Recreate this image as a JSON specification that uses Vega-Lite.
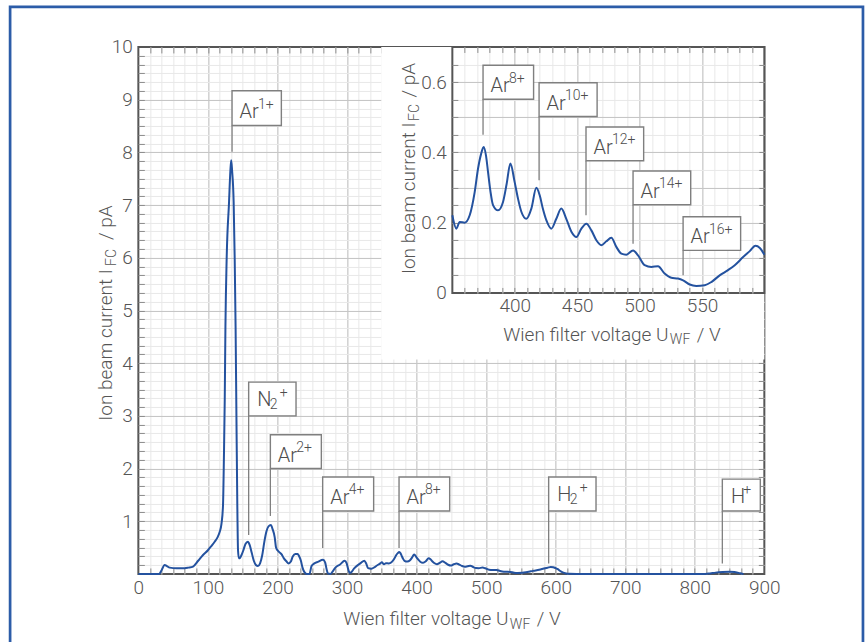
{
  "$schema": "https://vega.github.io/schema/vega-lite/v6.json",
  "padding": {"left": 7.35, "top": 3.95, "right": 5, "bottom": 5},
  "spacing": -312,
  "bounds": "flush",
  "align": "none",
  "config": {
    "font": "Roboto",
    "view": {"stroke": "#555555", "strokeWidth": 2},
    "axis": {
      "labelFont": "Roboto", "labelFontWeight": 300, "labelColor": "#555555", "labelFontSize": 19,
      "titleFont": "Roboto", "titleFontWeight": 300, "titleColor": "#555555", "titleFontSize": 19,
      "labelFlush": false, "labelOverlap": false, "labelBound": false, "domain": false, "tickColor": "#8c8c8c", "tickWidth": 1
    }
  },
  "datasets": {
    "one": [{}],
    "spec": [
      {"V": 0, "I": 0}, {"V": 30, "I": 0}, {"V": 33, "I": 0.06}, {"V": 37.8, "I": 0.17}, {"V": 41, "I": 0.15}, {"V": 45, "I": 0.12}, {"V": 55, "I": 0.11}, {"V": 66.6, "I": 0.11}, {"V": 72, "I": 0.12}, {"V": 78.6, "I": 0.14}, {"V": 86, "I": 0.25}, {"V": 93, "I": 0.36}, {"V": 100, "I": 0.45}, {"V": 105, "I": 0.53}, {"V": 109.7, "I": 0.61}, {"V": 114, "I": 0.7}, {"V": 117, "I": 0.8}, {"V": 119.5, "I": 0.95}, {"V": 121.7, "I": 1.3}, {"V": 123, "I": 2.2}, {"V": 124.2, "I": 3.3}, {"V": 125.2, "I": 4.7}, {"V": 127, "I": 6.0}, {"V": 130.4, "I": 7.06}, {"V": 132.3, "I": 7.65}, {"V": 133.5, "I": 7.85}, {"V": 134.8, "I": 7.65}, {"V": 137, "I": 7.06}, {"V": 138.5, "I": 6.0}, {"V": 139.8, "I": 4.7}, {"V": 141, "I": 3.0}, {"V": 142.2, "I": 1.4}, {"V": 143.3, "I": 0.45}, {"V": 144.5, "I": 0.3}, {"V": 146, "I": 0.3}, {"V": 148, "I": 0.35}, {"V": 151, "I": 0.45}, {"V": 154, "I": 0.57}, {"V": 157.5, "I": 0.61}, {"V": 160, "I": 0.55}, {"V": 163, "I": 0.4}, {"V": 166, "I": 0.25}, {"V": 169, "I": 0.17}, {"V": 172, "I": 0.15}, {"V": 175, "I": 0.2}, {"V": 178, "I": 0.35}, {"V": 181, "I": 0.6}, {"V": 184, "I": 0.8}, {"V": 187, "I": 0.9}, {"V": 190.5, "I": 0.93}, {"V": 193, "I": 0.85}, {"V": 196, "I": 0.7}, {"V": 198, "I": 0.5}, {"V": 200, "I": 0.45}, {"V": 203, "I": 0.41}, {"V": 206, "I": 0.37}, {"V": 209, "I": 0.3}, {"V": 212.8, "I": 0.24}, {"V": 216, "I": 0.2}, {"V": 219, "I": 0.23}, {"V": 222, "I": 0.33}, {"V": 225.7, "I": 0.38}, {"V": 229, "I": 0.38}, {"V": 231, "I": 0.34}, {"V": 233.7, "I": 0.25}, {"V": 236, "I": 0.12}, {"V": 239, "I": 0.03}, {"V": 242, "I": 0}, {"V": 246, "I": 0}, {"V": 249, "I": 0.15}, {"V": 253, "I": 0.2}, {"V": 258, "I": 0.23}, {"V": 265.5, "I": 0.27}, {"V": 268.5, "I": 0.22}, {"V": 270.5, "I": 0.1}, {"V": 272.5, "I": 0.01}, {"V": 276, "I": 0}, {"V": 280, "I": 0.06}, {"V": 284, "I": 0.13}, {"V": 290, "I": 0.18}, {"V": 296.6, "I": 0.25}, {"V": 299.5, "I": 0.2}, {"V": 301.5, "I": 0.1}, {"V": 303.8, "I": 0.02}, {"V": 306, "I": 0.03}, {"V": 310, "I": 0.1}, {"V": 315.8, "I": 0.17}, {"V": 320, "I": 0.21}, {"V": 324.8, "I": 0.25}, {"V": 327.5, "I": 0.2}, {"V": 330.2, "I": 0.11}, {"V": 335, "I": 0.1}, {"V": 339.8, "I": 0.13}, {"V": 344, "I": 0.17}, {"V": 348, "I": 0.2},
      {"V": 350, "I": 0.221}, {"V": 353.2, "I": 0.183}, {"V": 355.9, "I": 0.202}, {"V": 359.9, "I": 0.2}, {"V": 363.9, "I": 0.221}, {"V": 367.9, "I": 0.287}, {"V": 370.6, "I": 0.354}, {"V": 373, "I": 0.395}, {"V": 375.1, "I": 0.415}, {"V": 377, "I": 0.39}, {"V": 378.6, "I": 0.344}, {"V": 380.5, "I": 0.29}, {"V": 382.6, "I": 0.25}, {"V": 386.6, "I": 0.235}, {"V": 390.6, "I": 0.259}, {"V": 393.5, "I": 0.31}, {"V": 396.5, "I": 0.368}, {"V": 399.9, "I": 0.316}, {"V": 402.5, "I": 0.27}, {"V": 405.3, "I": 0.231}, {"V": 409.3, "I": 0.211}, {"V": 413.3, "I": 0.24}, {"V": 417.3, "I": 0.299}, {"V": 420, "I": 0.278}, {"V": 422.5, "I": 0.24}, {"V": 425.3, "I": 0.207}, {"V": 429.3, "I": 0.183}, {"V": 433.3, "I": 0.211}, {"V": 437.3, "I": 0.24}, {"V": 441.3, "I": 0.211}, {"V": 445.4, "I": 0.174}, {"V": 449.4, "I": 0.159}, {"V": 453.4, "I": 0.183}, {"V": 457.4, "I": 0.197}, {"V": 461.4, "I": 0.178}, {"V": 465.4, "I": 0.15}, {"V": 469.4, "I": 0.136}, {"V": 473.4, "I": 0.147}, {"V": 477.4, "I": 0.157}, {"V": 481.4, "I": 0.131}, {"V": 485.4, "I": 0.112}, {"V": 489.4, "I": 0.109}, {"V": 494.8, "I": 0.121}, {"V": 498.8, "I": 0.107}, {"V": 504.1, "I": 0.079}, {"V": 509.5, "I": 0.074}, {"V": 514.8, "I": 0.076}, {"V": 520.1, "I": 0.055}, {"V": 525.5, "I": 0.043}, {"V": 530.8, "I": 0.041}, {"V": 534.9, "I": 0.036}, {"V": 540.2, "I": 0.024}, {"V": 545.5, "I": 0.02}, {"V": 552.2, "I": 0.022}, {"V": 557.5, "I": 0.031}, {"V": 564.2, "I": 0.05}, {"V": 570.9, "I": 0.065}, {"V": 576.3, "I": 0.079}, {"V": 583, "I": 0.102}, {"V": 588.3, "I": 0.119}, {"V": 592.9, "I": 0.134}, {"V": 596.4, "I": 0.128}, {"V": 600, "I": 0.109},
      {"V": 603, "I": 0.09}, {"V": 606, "I": 0.06}, {"V": 610, "I": 0.03}, {"V": 615, "I": 0.01}, {"V": 620, "I": 0.002}, {"V": 630, "I": 0}, {"V": 700, "I": 0}, {"V": 815, "I": 0}, {"V": 822, "I": 0.01}, {"V": 830, "I": 0.025}, {"V": 840, "I": 0.035}, {"V": 850, "I": 0.04}, {"V": 857, "I": 0.035}, {"V": 863, "I": 0.02}, {"V": 868, "I": 0.005}, {"V": 870, "I": 0}
    ],
    "mainAnn": [
      {"g": "Ar", "base": "Ar", "sup": "1+", "v": 134.7, "i1": 8.01, "bx2": 205.6, "btop": 9.17, "bbot": 8.51},
      {"g": "X2", "base": "N", "sub": "2", "sup": "+", "v": 158.6, "i1": 0.74, "bx2": 226.7, "btop": 3.64, "bbot": 3.0},
      {"g": "Ar", "base": "Ar", "sup": "2+", "v": 189.8, "i1": 1.1, "bx2": 263.1, "btop": 2.64, "bbot": 2.0},
      {"g": "Ar", "base": "Ar", "sup": "4+", "v": 265.0, "i1": 0.49, "bx2": 338.3, "btop": 1.84, "bbot": 1.195},
      {"g": "Ar", "base": "Ar", "sup": "8+", "v": 374.8, "i1": 0.49, "bx2": 447.6, "btop": 1.84, "bbot": 1.195},
      {"g": "X2", "base": "H", "sub": "2", "sup": "+", "v": 589.9, "i1": 0.2, "bx2": 658.0, "btop": 1.84, "bbot": 1.195},
      {"g": "X", "base": "H", "sup": "+", "v": 839.6, "i1": 0.2, "bx2": 894.2, "btop": 1.8, "bbot": 1.195}
    ],
    "insetAnn": [
      {"base": "Ar", "sup": "8+", "v": 374.6, "i1": 0.45, "bx2": 415.1, "btop": 0.648, "bbot": 0.551},
      {"base": "Ar", "sup": "10+", "v": 419.5, "i1": 0.321, "bx2": 466.0, "btop": 0.598, "bbot": 0.502},
      {"base": "Ar", "sup": "12+", "v": 457.1, "i1": 0.221, "bx2": 503.3, "btop": 0.472, "bbot": 0.376},
      {"base": "Ar", "sup": "14+", "v": 494.8, "i1": 0.14, "bx2": 541.0, "btop": 0.347, "bbot": 0.251},
      {"base": "Ar", "sup": "16+", "v": 534.9, "i1": 0.05, "bx2": 581.0, "btop": 0.217, "bbot": 0.121}
    ]
  },
  "hconcat": [
    {
      "width": 626,
      "height": 527,
      "resolve": {"axis": {"x": "independent", "y": "independent"}},
      "layer": [
        {
          "data": {"name": "one"},
          "mark": {"type": "rect", "filled": false, "stroke": "#2c5ca8", "strokeWidth": 2.7},
          "encoding": {
            "x": {"datum": -184.4, "type": "quantitative", "scale": {"domain": [0, 900], "nice": false, "zero": false}, "axis": null},
            "x2": {"datum": 1041.8},
            "y": {"datum": 10.76, "type": "quantitative", "scale": {"domain": [0, 10], "nice": false, "zero": false}, "axis": null},
            "y2": {"datum": -2.5}
          }
        },
        {
          "data": {"name": "one"},
          "mark": {"type": "rect", "fill": "white", "strokeWidth": 0},
          "encoding": {
            "x": {"datum": 349.3, "type": "quantitative", "scale": {"domain": [0, 900], "nice": false, "zero": false}, "axis": null},
            "x2": {"datum": 900},
            "y": {"datum": 10, "type": "quantitative", "scale": {"domain": [0, 10], "nice": false, "zero": false}, "axis": null},
            "y2": {"datum": 4.07}
          }
        },
        {
          "mark": {"type": "point", "opacity": 0},
          "encoding": {
            "x": {"datum": 450, "type": "quantitative", "scale": {"domain": [0, 900], "nice": false, "zero": false},
              "axis": {"orient": "bottom", "values": [16.667, 33.333, 50, 66.667, 83.333, 100, 116.667, 133.333, 150, 166.667, 183.333, 200, 216.667, 233.333, 250, 266.667, 283.333, 300, 316.667, 333.333, 350, 366.667, 383.333, 400, 416.667, 433.333, 450, 466.667, 483.333, 500, 516.667, 533.333, 550, 566.667, 583.333, 600, 616.667, 633.333, 650, 666.667, 683.333, 700, 716.667, 733.333, 750, 766.667, 783.333, 800, 816.667, 833.333, 850, 866.667, 883.333],
                "grid": true, "gridColor": "#e8e8e8", "gridWidth": 1, "ticks": true, "tickSize": -6, "labels": false,
                "title": "WF", "titleX": 371, "titleY": 55, "titleAlign": "left", "titleBaseline": "alphabetic", "titleAngle": 0, "titleFontSize": 14}},
            "y": {"datum": 5, "type": "quantitative", "scale": {"domain": [0, 10], "nice": false, "zero": false},
              "axis": {"orient": "left", "values": [0.167, 0.333, 0.5, 0.667, 0.833, 1, 1.167, 1.333, 1.5, 1.667, 1.833, 2, 2.167, 2.333, 2.5, 2.667, 2.833, 3, 3.167, 3.333, 3.5, 3.667, 3.833, 4, 4.167, 4.333, 4.5, 4.667, 4.833, 5, 5.167, 5.333, 5.5, 5.667, 5.833, 6, 6.167, 6.333, 6.5, 6.667, 6.833, 7, 7.167, 7.333, 7.5, 7.667, 7.833, 8, 8.167, 8.333, 8.5, 8.667, 8.833, 9, 9.167, 9.333, 9.5, 9.667, 9.833],
                "grid": true, "gridColor": "#e8e8e8", "gridWidth": 1, "ticks": true, "tickSize": -6, "labels": false,
                "title": "FC", "titleX": -23, "titleY": 218.5, "titleAlign": "left", "titleBaseline": "alphabetic", "titleAngle": -90, "titleFontSize": 14}}
          }
        },
        {
          "mark": {"type": "point", "opacity": 0},
          "encoding": {
            "x": {"datum": 450, "type": "quantitative", "scale": {"domain": [0, 900], "nice": false, "zero": false},
              "axis": {"orient": "top", "values": [16.667, 33.333, 50, 66.667, 83.333, 100, 116.667, 133.333, 150, 166.667, 183.333, 200, 216.667, 233.333, 250, 266.667, 283.333, 300, 316.667, 333.333, 350, 366.667, 383.333, 400, 416.667, 433.333, 450, 466.667, 483.333, 500, 516.667, 533.333, 550, 566.667, 583.333, 600, 616.667, 633.333, 650, 666.667, 683.333, 700, 716.667, 733.333, 750, 766.667, 783.333, 800, 816.667, 833.333, 850, 866.667, 883.333],
                "grid": false, "ticks": true, "tickSize": -6, "labels": false,
                "title": "/ V", "titleX": 398, "titleY": 578, "titleAlign": "left", "titleBaseline": "alphabetic", "titleAngle": 0}},
            "y": {"datum": 5, "type": "quantitative", "scale": {"domain": [0, 10], "nice": false, "zero": false},
              "axis": {"orient": "right", "values": [0.167, 0.333, 0.5, 0.667, 0.833, 1, 1.167, 1.333, 1.5, 1.667, 1.833, 2, 2.167, 2.333, 2.5, 2.667, 2.833, 3, 3.167, 3.333, 3.5, 3.667, 3.833, 4, 4.167, 4.333, 4.5, 4.667, 4.833, 5, 5.167, 5.333, 5.5, 5.667, 5.833, 6, 6.167, 6.333, 6.5, 6.667, 6.833, 7, 7.167, 7.333, 7.5, 7.667, 7.833, 8, 8.167, 8.333, 8.5, 8.667, 8.833, 9, 9.167, 9.333, 9.5, 9.667, 9.833],
                "grid": false, "ticks": true, "tickSize": -6, "labels": false,
                "title": "/ pA", "titleX": -653, "titleY": 192.5, "titleAlign": "left", "titleBaseline": "alphabetic", "titleAngle": -90}}
          }
        },
        {
          "data": {"name": "spec"},
          "mark": {"type": "line", "color": "#24529f", "strokeWidth": 2, "interpolate": "monotone"},
          "encoding": {
            "x": {"field": "V", "type": "quantitative", "scale": {"domain": [0, 900], "nice": false, "zero": false},
              "axis": {"orient": "bottom", "values": [0, 100, 200, 300, 400, 500, 600, 700, 800, 900], "grid": true, "gridColor": "#c4c4c4",
                "gridOpacity": {"condition": {"test": "datum.value == 0 || datum.value == 900", "value": 0}, "value": 1},
                "ticks": false, "labelPadding": 5,
                "title": "Wien filter voltage U", "titleX": 369.7, "titleY": 50.7, "titleAlign": "right", "titleBaseline": "alphabetic", "titleAngle": 0}},
            "y": {"field": "I", "type": "quantitative", "scale": {"domain": [0, 10], "nice": false, "zero": false},
              "axis": {"orient": "left", "values": [1, 2, 3, 4, 5, 6, 7, 8, 9, 10], "grid": true, "gridColor": "#c4c4c4",
                "gridOpacity": {"condition": {"test": "datum.value == 10", "value": 0}, "value": 1},
                "ticks": false, "labelPadding": 6,
                "title": "Ion beam current I", "titleX": -27, "titleY": 221.7, "titleAlign": "right", "titleBaseline": "alphabetic", "titleAngle": -90}}
          }
        },
        {
          "data": {"name": "mainAnn"},
          "mark": {"type": "rule", "color": "#7f7f7f", "strokeWidth": 1.3},
          "encoding": {
            "x": {"field": "v", "type": "quantitative", "scale": {"domain": [0, 900], "nice": false, "zero": false}, "axis": null},
            "y": {"field": "i1", "type": "quantitative", "scale": {"domain": [0, 10], "nice": false, "zero": false}, "axis": null},
            "y2": {"field": "bbot"}
          }
        },
        {
          "data": {"name": "mainAnn"},
          "mark": {"type": "rect", "fill": "white", "stroke": "#7f7f7f", "strokeWidth": 1.4},
          "encoding": {
            "x": {"field": "v", "type": "quantitative", "scale": {"domain": [0, 900], "nice": false, "zero": false}, "axis": null},
            "x2": {"field": "bx2"},
            "y": {"field": "btop", "type": "quantitative", "scale": {"domain": [0, 10], "nice": false, "zero": false}, "axis": null},
            "y2": {"field": "bbot"}
          }
        },
        {
          "data": {"name": "mainAnn"},
          "transform": [{"filter": "datum.g == 'Ar'"}],
          "mark": {"type": "text", "align": "left", "baseline": "alphabetic", "dx": 7.5, "dy": -7, "font": "Roboto", "fontWeight": 300, "fontSize": 20, "fill": "#4d4d4d"},
          "encoding": {
            "x": {"field": "v", "type": "quantitative", "scale": {"domain": [0, 900], "nice": false, "zero": false}, "axis": null},
            "y": {"field": "bbot", "type": "quantitative", "scale": {"domain": [0, 10], "nice": false, "zero": false}, "axis": null},
            "text": {"field": "base"}
          }
        },
        {
          "data": {"name": "mainAnn"},
          "transform": [{"filter": "datum.g == 'Ar'"}],
          "mark": {"type": "text", "align": "left", "baseline": "alphabetic", "dx": 26, "dy": -16.5, "font": "Roboto", "fontWeight": 300, "fontSize": 14, "fill": "#4d4d4d"},
          "encoding": {
            "x": {"field": "v", "type": "quantitative", "scale": {"domain": [0, 900], "nice": false, "zero": false}, "axis": null},
            "y": {"field": "bbot", "type": "quantitative", "scale": {"domain": [0, 10], "nice": false, "zero": false}, "axis": null},
            "text": {"field": "sup"}
          }
        },
        {
          "data": {"name": "mainAnn"},
          "transform": [{"filter": "datum.g == 'X2'"}],
          "mark": {"type": "text", "align": "left", "baseline": "alphabetic", "dx": 8.5, "dy": -9.5, "font": "Roboto", "fontWeight": 300, "fontSize": 20, "fill": "#4d4d4d"},
          "encoding": {
            "x": {"field": "v", "type": "quantitative", "scale": {"domain": [0, 900], "nice": false, "zero": false}, "axis": null},
            "y": {"field": "bbot", "type": "quantitative", "scale": {"domain": [0, 10], "nice": false, "zero": false}, "axis": null},
            "text": {"field": "base"}
          }
        },
        {
          "data": {"name": "mainAnn"},
          "transform": [{"filter": "datum.g == 'X2'"}],
          "mark": {"type": "text", "align": "left", "baseline": "alphabetic", "dx": 21, "dy": -6.5, "font": "Roboto", "fontWeight": 300, "fontSize": 14, "fill": "#4d4d4d"},
          "encoding": {
            "x": {"field": "v", "type": "quantitative", "scale": {"domain": [0, 900], "nice": false, "zero": false}, "axis": null},
            "y": {"field": "bbot", "type": "quantitative", "scale": {"domain": [0, 10], "nice": false, "zero": false}, "axis": null},
            "text": {"field": "sub"}
          }
        },
        {
          "data": {"name": "mainAnn"},
          "transform": [{"filter": "datum.g == 'X2'"}],
          "mark": {"type": "text", "align": "left", "baseline": "alphabetic", "dx": 31, "dy": -18.5, "font": "Roboto", "fontWeight": 300, "fontSize": 14, "fill": "#4d4d4d"},
          "encoding": {
            "x": {"field": "v", "type": "quantitative", "scale": {"domain": [0, 900], "nice": false, "zero": false}, "axis": null},
            "y": {"field": "bbot", "type": "quantitative", "scale": {"domain": [0, 10], "nice": false, "zero": false}, "axis": null},
            "text": {"field": "sup"}
          }
        },
        {
          "data": {"name": "mainAnn"},
          "transform": [{"filter": "datum.g == 'X'"}],
          "mark": {"type": "text", "align": "left", "baseline": "alphabetic", "dx": 8.7, "dy": -7.6, "font": "Roboto", "fontWeight": 300, "fontSize": 20, "fill": "#4d4d4d"},
          "encoding": {
            "x": {"field": "v", "type": "quantitative", "scale": {"domain": [0, 900], "nice": false, "zero": false}, "axis": null},
            "y": {"field": "bbot", "type": "quantitative", "scale": {"domain": [0, 10], "nice": false, "zero": false}, "axis": null},
            "text": {"field": "base"}
          }
        },
        {
          "data": {"name": "mainAnn"},
          "transform": [{"filter": "datum.g == 'X'"}],
          "mark": {"type": "text", "align": "left", "baseline": "alphabetic", "dx": 21, "dy": -16.7, "font": "Roboto", "fontWeight": 300, "fontSize": 14, "fill": "#4d4d4d"},
          "encoding": {
            "x": {"field": "v", "type": "quantitative", "scale": {"domain": [0, 900], "nice": false, "zero": false}, "axis": null},
            "y": {"field": "bbot", "type": "quantitative", "scale": {"domain": [0, 10], "nice": false, "zero": false}, "axis": null},
            "text": {"field": "sup"}
          }
        }
      ]
    },
    {
      "width": 312,
      "height": 246,
      "view": {"stroke": "#555555", "strokeWidth": 2, "fill": "white"},
      "resolve": {"axis": {"x": "independent", "y": "independent"}},
      "layer": [
        {
          "mark": {"type": "point", "opacity": 0},
          "encoding": {
            "x": {"datum": 475, "type": "quantitative", "scale": {"domain": [350, 600], "nice": false, "zero": false},
              "axis": {"orient": "bottom", "values": [360, 370, 380, 390, 400, 410, 420, 430, 440, 450, 460, 470, 480, 490, 500, 510, 520, 530, 540, 550, 560, 570, 580, 590],
                "grid": true, "gridColor": "#e8e8e8", "ticks": true, "tickSize": -5.5, "labels": false,
                "title": "WF", "titleX": 217, "titleY": 51, "titleAlign": "left", "titleBaseline": "alphabetic", "titleAngle": 0, "titleFontSize": 14}},
            "y": {"datum": 0.35, "type": "quantitative", "scale": {"domain": [0, 0.7], "nice": false, "zero": false},
              "axis": {"orient": "left", "values": [0.05, 0.1, 0.15, 0.2, 0.25, 0.3, 0.35, 0.4, 0.45, 0.5, 0.55, 0.6, 0.65],
                "grid": true, "gridColor": "#e8e8e8", "ticks": true, "tickSize": -5.5, "labels": false,
                "title": "FC", "titleX": -33.7, "titleY": 73.5, "titleAlign": "left", "titleBaseline": "alphabetic", "titleAngle": -90, "titleFontSize": 14}}
          }
        },
        {
          "mark": {"type": "point", "opacity": 0},
          "encoding": {
            "x": {"datum": 475, "type": "quantitative", "scale": {"domain": [350, 600], "nice": false, "zero": false},
              "axis": {"orient": "top", "values": [360, 370, 380, 390, 400, 410, 420, 430, 440, 450, 460, 470, 480, 490, 500, 510, 520, 530, 540, 550, 560, 570, 580, 590],
                "grid": false, "ticks": true, "tickSize": -5.5, "labels": false,
                "title": "/ V", "titleX": 244, "titleY": 293.3, "titleAlign": "left", "titleBaseline": "alphabetic", "titleAngle": 0}},
            "y": {"datum": 0.35, "type": "quantitative", "scale": {"domain": [0, 0.7], "nice": false, "zero": false},
              "axis": {"orient": "right", "values": [0.05, 0.1, 0.15, 0.2, 0.25, 0.3, 0.35, 0.4, 0.45, 0.5, 0.55, 0.6, 0.65],
                "grid": false, "ticks": true, "tickSize": -5.5, "labels": false,
                "title": "/ pA", "titleX": -349.7, "titleY": 50, "titleAlign": "left", "titleBaseline": "alphabetic", "titleAngle": -90}}
          }
        },
        {
          "data": {"name": "spec"},
          "transform": [{"filter": "datum.V >= 350 && datum.V <= 600"}],
          "mark": {"type": "line", "color": "#24529f", "strokeWidth": 2, "interpolate": "monotone"},
          "encoding": {
            "x": {"field": "V", "type": "quantitative", "scale": {"domain": [350, 600], "nice": false, "zero": false},
              "axis": {"orient": "bottom", "values": [400, 450, 500, 550], "grid": true, "gridColor": "#c4c4c4", "ticks": false, "labelPadding": 4,
                "title": "Wien filter voltage U", "titleX": 215.7, "titleY": 47.3, "titleAlign": "right", "titleBaseline": "alphabetic", "titleAngle": 0}},
            "y": {"field": "I", "type": "quantitative", "scale": {"domain": [0, 0.7], "nice": false, "zero": false},
              "axis": {"orient": "left", "values": [0, 0.1, 0.2, 0.3, 0.4, 0.5, 0.6], "grid": true, "gridColor": "#c4c4c4",
                "gridOpacity": {"condition": {"test": "datum.value == 0", "value": 0}, "value": 1},
                "labelExpr": "round(datum.value * 10) % 2 == 1 ? '' : (datum.value == 0 ? '0' : format(datum.value, '.1f'))",
                "ticks": false, "labelPadding": 6,
                "title": "Ion beam current I", "titleX": -37.7, "titleY": 75, "titleAlign": "right", "titleBaseline": "alphabetic", "titleAngle": -90}}
          }
        },
        {
          "data": {"name": "insetAnn"},
          "mark": {"type": "rule", "color": "#7f7f7f", "strokeWidth": 1.3},
          "encoding": {
            "x": {"field": "v", "type": "quantitative", "scale": {"domain": [350, 600], "nice": false, "zero": false}, "axis": null},
            "y": {"field": "i1", "type": "quantitative", "scale": {"domain": [0, 0.7], "nice": false, "zero": false}, "axis": null},
            "y2": {"field": "bbot"}
          }
        },
        {
          "data": {"name": "insetAnn"},
          "mark": {"type": "rect", "fill": "white", "stroke": "#7f7f7f", "strokeWidth": 1.4},
          "encoding": {
            "x": {"field": "v", "type": "quantitative", "scale": {"domain": [350, 600], "nice": false, "zero": false}, "axis": null},
            "x2": {"field": "bx2"},
            "y": {"field": "btop", "type": "quantitative", "scale": {"domain": [0, 0.7], "nice": false, "zero": false}, "axis": null},
            "y2": {"field": "bbot"}
          }
        },
        {
          "data": {"name": "insetAnn"},
          "mark": {"type": "text", "align": "left", "baseline": "alphabetic", "dx": 7.5, "dy": -7, "font": "Roboto", "fontWeight": 300, "fontSize": 20, "fill": "#4d4d4d"},
          "encoding": {
            "x": {"field": "v", "type": "quantitative", "scale": {"domain": [350, 600], "nice": false, "zero": false}, "axis": null},
            "y": {"field": "bbot", "type": "quantitative", "scale": {"domain": [0, 0.7], "nice": false, "zero": false}, "axis": null},
            "text": {"field": "base"}
          }
        },
        {
          "data": {"name": "insetAnn"},
          "mark": {"type": "text", "align": "left", "baseline": "alphabetic", "dx": 26, "dy": -16.5, "font": "Roboto", "fontWeight": 300, "fontSize": 14, "fill": "#4d4d4d"},
          "encoding": {
            "x": {"field": "v", "type": "quantitative", "scale": {"domain": [350, 600], "nice": false, "zero": false}, "axis": null},
            "y": {"field": "bbot", "type": "quantitative", "scale": {"domain": [0, 0.7], "nice": false, "zero": false}, "axis": null},
            "text": {"field": "sup"}
          }
        }
      ]
    }
  ]
}
